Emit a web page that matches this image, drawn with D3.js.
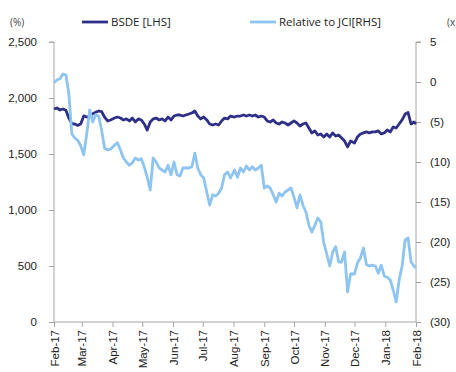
<!DOCTYPE html>
<html>
<head>
<meta charset="utf-8">
<script src="https://cdn.jsdelivr.net/npm/d3@7"></script>
<style>
  body { margin: 0; background: #fff; }
  svg { display: block; font-family: "Open Sans", "Noto Sans", sans-serif; }
  .axis text { font-size: 11.5px; fill: #222; }
  .axis path, .axis line { stroke: #a6a6a6; }
</style>
</head>
<body>
<div id="container"></div>
<script>
//---------- DATA ----------//
const dates = [
  "2017-02-01","2017-02-04","2017-02-07","2017-02-10","2017-02-13","2017-02-16","2017-02-19","2017-02-22","2017-02-25","2017-02-28",
  "2017-03-03","2017-03-06","2017-03-09","2017-03-12","2017-03-15","2017-03-18","2017-03-21","2017-03-24","2017-03-27","2017-03-30",
  "2017-04-03","2017-04-06","2017-04-09","2017-04-12","2017-04-15","2017-04-18","2017-04-21","2017-04-24","2017-04-27","2017-04-30",
  "2017-05-03","2017-05-06","2017-05-09","2017-05-12","2017-05-15","2017-05-18","2017-05-21","2017-05-24","2017-05-27","2017-05-30",
  "2017-06-02","2017-06-05","2017-06-08","2017-06-11","2017-06-14","2017-06-17","2017-06-20","2017-06-23","2017-06-26","2017-06-29",
  "2017-07-02","2017-07-05","2017-07-08","2017-07-11","2017-07-14","2017-07-17","2017-07-20","2017-07-23","2017-07-26","2017-07-29",
  "2017-08-02","2017-08-05","2017-08-08","2017-08-11","2017-08-14","2017-08-17","2017-08-20","2017-08-23","2017-08-26","2017-08-29",
  "2017-09-01","2017-09-04","2017-09-07","2017-09-10","2017-09-13","2017-09-16","2017-09-19","2017-09-22","2017-09-25","2017-09-28",
  "2017-10-01","2017-10-04","2017-10-07","2017-10-10","2017-10-13","2017-10-16","2017-10-19","2017-10-22","2017-10-25","2017-10-28",
  "2017-10-31","2017-11-03","2017-11-06","2017-11-09","2017-11-12","2017-11-15","2017-11-18","2017-11-21","2017-11-24","2017-11-27",
  "2017-12-01","2017-12-04","2017-12-07","2017-12-10","2017-12-13","2017-12-16","2017-12-19","2017-12-22","2017-12-25","2017-12-28",
  "2017-12-31","2018-01-03","2018-01-06","2018-01-09","2018-01-12","2018-01-15","2018-01-18","2018-01-21","2018-01-24","2018-01-27",
  "2018-01-30","2018-02-01"
];

// BSDE price (left axis)
const bsde = [
  1902, 1911, 1893, 1902, 1890, 1820, 1770, 1768, 1755, 1770,
  1840, 1830, 1835, 1860, 1872, 1884, 1878, 1830, 1795, 1804,
  1821, 1830, 1821, 1804, 1813, 1795, 1821, 1786, 1813, 1804,
  1768, 1714, 1786, 1813, 1821, 1804, 1813, 1795, 1830, 1804,
  1839, 1848, 1848, 1839, 1848, 1857, 1866, 1884, 1839, 1813,
  1830, 1804, 1768, 1759, 1768, 1759, 1795, 1821, 1813, 1839,
  1830, 1839, 1839, 1848, 1839, 1848, 1839, 1848, 1830, 1839,
  1830, 1795, 1786, 1804, 1777, 1768, 1786, 1777, 1759, 1777,
  1795, 1777, 1750, 1768, 1777, 1732, 1688, 1706, 1670, 1679,
  1652, 1679, 1652, 1688, 1661, 1670, 1643, 1616, 1563, 1616,
  1598, 1652, 1679, 1688, 1697, 1688, 1697, 1697, 1706, 1679,
  1688, 1714, 1697, 1741, 1732, 1768, 1804, 1857, 1870, 1768,
  1786, 1768
];

// Relative to JCI (right axis)
const relJci = [
  -0.1, 0.25, 0.4, 1.0, 0.9, -1.5, -6.5, -7, -7.3, -8,
  -9.1, -6.5, -3.5, -5, -4.1, -4.25, -6, -8.25, -8.5, -8.4,
  -7.9, -7.6, -8.5, -9.5, -10, -10.4, -10.1, -9.5, -9.75, -9.6,
  -10.6, -11.9, -13.5, -9.5, -10, -10.75, -11, -11.25, -10.4, -11.6,
  -10, -11.6, -11.75, -10.75, -10.75, -10.75, -10.6, -8.9, -10.75, -11.6,
  -12, -13.75, -15.4, -14.1, -14.25, -13.9, -13.25, -11.6, -11.25, -12,
  -11, -11.9, -10.75, -11.25, -10.5, -11, -10.6, -11, -10.75, -10.4,
  -13.25, -13, -13.25, -14.1, -15, -13.9, -14.25, -13.75, -13.5, -13.25,
  -14.4, -15.75, -14.1, -15.4, -16.25, -17.9, -18.75, -17.9, -17, -17.5,
  -20.1, -21.5, -23, -21.25, -20.6, -22.5, -22.5, -21.25, -26.25, -24,
  -24, -22.6, -22, -20.75, -22.8, -23, -22.9, -23, -23.9, -22.9,
  -24.25, -24.4, -24.75, -26, -27.5, -24.75, -23, -19.75, -19.5, -22.5,
  -23, -23.25
];

const leftTicks = [0, 500, 1000, 1500, 2000, 2500];
const rightTicks = [5, 0, -5, -10, -15, -20, -25, -30];
const monthTicks = ["2017-02-01","2017-03-01","2017-04-01","2017-05-01","2017-06-01","2017-07-01",
  "2017-08-01","2017-09-01","2017-10-01","2017-11-01","2017-12-01","2018-01-01","2018-02-01"];

//---------- SVG ----------//
const width = 456;
const height = 372;
const plot = { left: 54, right: 416, top: 42, bottom: 322 };

const svg = d3.select("div#container")
  .append("svg")
  .attr("width", width)
  .attr("height", height);

const parse = d3.timeParse("%Y-%m-%d");
const points = dates.map((d, i) => ({ date: parse(d), left: bsde[i], right: relJci[i] }));

//---------- SCALES ----------//
const xScale = d3.scaleTime()
  .domain([parse("2017-02-01"), parse("2018-02-01")])
  .range([plot.left, plot.right]);
const yLeft = d3.scaleLinear().domain([0, 2500]).range([plot.bottom, plot.top]);
const yRight = d3.scaleLinear().domain([-30, 5]).range([plot.bottom, plot.top]);

//---------- AXES ----------//
const fmtRight = v => v < 0 ? "(" + Math.abs(v) + ")" : String(v);

svg.append("g")
  .attr("class", "axis")
  .attr("transform", `translate(${plot.left},0)`)
  .call(d3.axisLeft(yLeft).tickValues(leftTicks).tickFormat(d3.format(",")).tickSize(5).tickPadding(12))
  .call(g => g.select(".domain").attr("d", `M-5,${plot.top}H0V${plot.bottom}`));

svg.append("g")
  .attr("class", "axis")
  .attr("transform", `translate(${plot.right},0)`)
  .call(d3.axisRight(yRight).tickValues(rightTicks).tickFormat(fmtRight).tickSize(5).tickPadding(9))
  .call(g => g.select(".domain").attr("d", `M5,${plot.top}H0V${plot.bottom}`));

svg.append("g")
  .attr("class", "axis")
  .attr("transform", `translate(0,${plot.bottom})`)
  .call(d3.axisBottom(xScale).tickValues(monthTicks.map(parse)).tickFormat(d3.timeFormat("%b-%y")).tickSize(5))
  .call(g => g.select(".domain").attr("d", `M${plot.left},0H${plot.right}`))
  .selectAll("text")
    .attr("transform", "rotate(-90)")
    .attr("text-anchor", "end")
    .attr("x", -8)
    .attr("y", 0)
    .attr("dy", "0.35em");

//---------- LINES ----------//
svg.append("path")
  .datum(points)
  .attr("fill", "none")
  .attr("stroke", "#2E2F86")
  .attr("stroke-width", 2.8)
  .attr("stroke-linejoin", "round")
  .attr("d", d3.line().x(d => xScale(d.date)).y(d => yLeft(d.left)));

svg.append("path")
  .datum(points)
  .attr("fill", "none")
  .attr("stroke", "#8EC4F0")
  .attr("stroke-width", 2.8)
  .attr("stroke-linejoin", "round")
  .attr("d", d3.line().x(d => xScale(d.date)).y(d => yRight(d.right)));

//---------- LABELS & LEGEND ----------//
svg.append("text").attr("x", 10).attr("y", 26)
  .attr("font-size", 10).attr("fill", "#444").text("(%)");
svg.append("text").attr("x", 447).attr("y", 26)
  .attr("font-size", 10).attr("fill", "#444").text("(x)");

const legend = [
  { name: "BSDE [LHS]", color: "#2E2F86", x: 82 },
  { name: "Relative to JCI[RHS]", color: "#8EC4F0", x: 250 }
];
const lg = svg.append("g").selectAll("g").data(legend).join("g")
  .attr("transform", d => `translate(${d.x},22)`);
lg.append("line").attr("x1", 0).attr("x2", 26)
  .attr("stroke", d => d.color).attr("stroke-width", 2.8);
lg.append("text").attr("x", 29).attr("dy", "0.35em")
  .attr("font-size", 11.5).attr("fill", "#222").text(d => d.name);
</script>
</body>
</html>
